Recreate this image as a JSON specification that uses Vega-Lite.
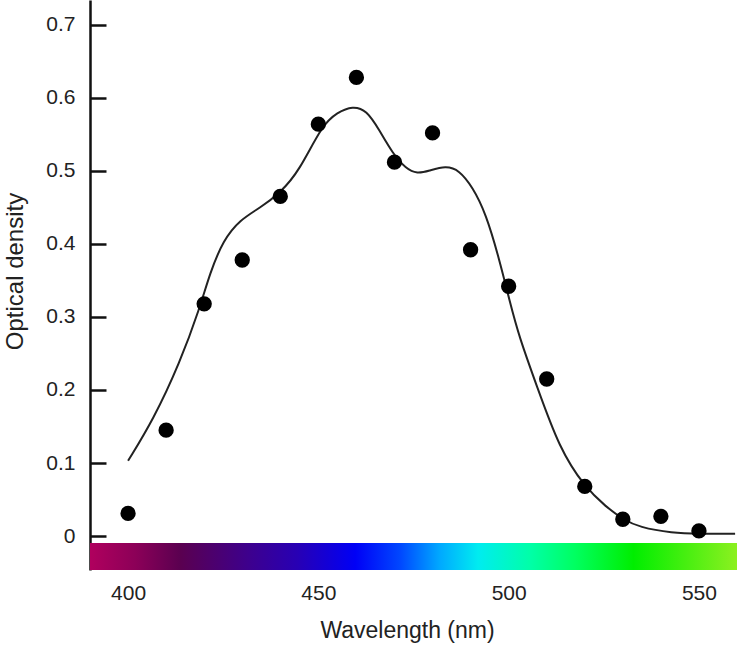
{
  "$schema": "https://vega.github.io/schema/vega-lite/v6.json",
  "width": 647,
  "height": 570,
  "autosize": {"type": "none"},
  "padding": {"left": 90, "top": 0, "right": 2, "bottom": 75},
  "background": "white",
  "config": {
    "view": {"stroke": null},
    "font": "Liberation Sans"
  },
  "datasets": {
    "points": [
      {"wavelength": 400, "density": 0.031},
      {"wavelength": 410, "density": 0.145},
      {"wavelength": 420, "density": 0.318},
      {"wavelength": 430, "density": 0.378},
      {"wavelength": 440, "density": 0.465},
      {"wavelength": 450, "density": 0.564},
      {"wavelength": 460, "density": 0.628},
      {"wavelength": 470, "density": 0.512},
      {"wavelength": 480, "density": 0.552},
      {"wavelength": 490, "density": 0.392},
      {"wavelength": 500, "density": 0.342},
      {"wavelength": 510, "density": 0.215},
      {"wavelength": 520, "density": 0.068},
      {"wavelength": 530, "density": 0.023},
      {"wavelength": 540, "density": 0.027},
      {"wavelength": 550, "density": 0.007}
    ],
    "curve": [
      {"wavelength": 400, "density": 0.103},
      {"wavelength": 406.6, "density": 0.159},
      {"wavelength": 413.6, "density": 0.237},
      {"wavelength": 418.9, "density": 0.313},
      {"wavelength": 421.5, "density": 0.36},
      {"wavelength": 425, "density": 0.405},
      {"wavelength": 429.4, "density": 0.433},
      {"wavelength": 434.6, "density": 0.449},
      {"wavelength": 440, "density": 0.47},
      {"wavelength": 445, "density": 0.5},
      {"wavelength": 451, "density": 0.563},
      {"wavelength": 455, "density": 0.58},
      {"wavelength": 459, "density": 0.589},
      {"wavelength": 462.7, "density": 0.583},
      {"wavelength": 466, "density": 0.556},
      {"wavelength": 469.5, "density": 0.524},
      {"wavelength": 473, "density": 0.503},
      {"wavelength": 476, "density": 0.496},
      {"wavelength": 479, "density": 0.5},
      {"wavelength": 483.5, "density": 0.507},
      {"wavelength": 487, "density": 0.501},
      {"wavelength": 490.5, "density": 0.478},
      {"wavelength": 494, "density": 0.442},
      {"wavelength": 497.6, "density": 0.378},
      {"wavelength": 500.2, "density": 0.323},
      {"wavelength": 502.8, "density": 0.272},
      {"wavelength": 507.3, "density": 0.207},
      {"wavelength": 513.3, "density": 0.12},
      {"wavelength": 520, "density": 0.067},
      {"wavelength": 525.6, "density": 0.04},
      {"wavelength": 530, "density": 0.023},
      {"wavelength": 534.3, "density": 0.012},
      {"wavelength": 543, "density": 0.004},
      {"wavelength": 550, "density": 0.003},
      {"wavelength": 559.5, "density": 0.003}
    ]
  },
  "layer": [
    {
      "data": {"name": "points"},
      "mark": {
        "type": "rect",
        "color": {
          "gradient": "linear",
          "x1": 0, "y1": 0, "x2": 1, "y2": 0,
          "stops": [
            {"offset": 0, "color": "#b0005e"},
            {"offset": 0.07, "color": "#8c0058"},
            {"offset": 0.14, "color": "#5a0050"},
            {"offset": 0.25, "color": "#3c0090"},
            {"offset": 0.32, "color": "#2800b4"},
            {"offset": 0.41, "color": "#0000f6"},
            {"offset": 0.48, "color": "#0048ff"},
            {"offset": 0.54, "color": "#00a8ff"},
            {"offset": 0.6, "color": "#00ecf0"},
            {"offset": 0.68, "color": "#00ffa8"},
            {"offset": 0.75, "color": "#00ff60"},
            {"offset": 0.84, "color": "#00ee00"},
            {"offset": 1, "color": "#8cf020"}
          ]
        }
      },
      "encoding": {
        "x": {"datum": 390, "type": "quantitative", "scale": {"domain": [390, 560], "nice": false, "zero": false},
          "axis": {
            "title": "Wavelength (nm)",
            "values": [400, 450, 500, 550],
            "domain": false,
            "ticks": false,
            "grid": false,
            "labelFontSize": 21,
            "labelColor": "#222",
            "labelPadding": 12,
            "titleFontSize": 23,
            "titleFontWeight": "normal",
            "titleColor": "#222",
            "titleX": 317,
            "titleY": 60,
            "titleBaseline": "middle"
          }
        },
        "x2": {"datum": 560},
        "y": {"datum": -0.0096, "type": "quantitative", "scale": {"domain": [-0.0465, 0.734], "nice": false, "zero": false},
          "axis": {
            "title": "Optical density",
            "values": [0, 0.1, 0.2, 0.3, 0.4, 0.5, 0.6, 0.7],
            "labelExpr": "datum.value == 0 ? '0' : format(datum.value, '.1f')",
            "domain": true,
            "domainColor": "#111",
            "domainWidth": 2.5,
            "ticks": true,
            "tickColor": "#111",
            "tickWidth": 2.5,
            "tickSize": -16,
            "grid": false,
            "labelFontSize": 21,
            "labelColor": "#222",
            "labelPadding": 31,
            "titleFontSize": 24,
            "titleFontWeight": "normal",
            "titleColor": "#222",
            "titleAngle": -90,
            "titleX": -75,
            "titleY": 271,
            "titleBaseline": "middle",
            "titleAlign": "center"
          }
        },
        "y2": {"datum": -0.0465}
      }
    },
    {
      "data": {"name": "curve"},
      "mark": {"type": "line", "interpolate": "basis", "color": "#222", "strokeWidth": 2},
      "encoding": {
        "x": {"field": "wavelength", "type": "quantitative"},
        "y": {"field": "density", "type": "quantitative"}
      }
    },
    {
      "data": {"name": "points"},
      "mark": {"type": "circle", "color": "#000", "opacity": 1, "size": 235},
      "encoding": {
        "x": {"field": "wavelength", "type": "quantitative"},
        "y": {"field": "density", "type": "quantitative"}
      }
    }
  ]
}
